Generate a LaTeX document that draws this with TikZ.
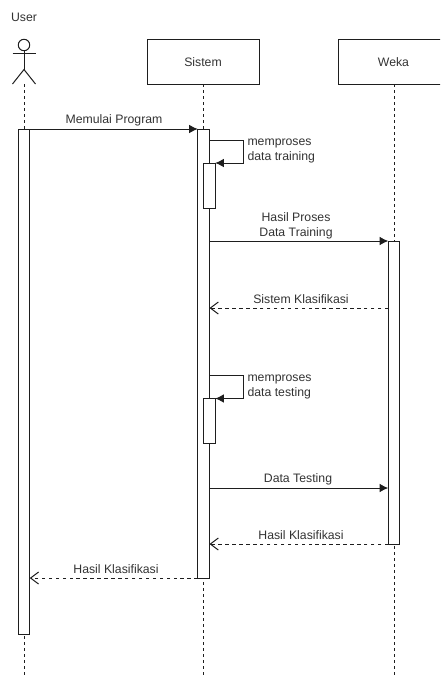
\documentclass[tikz,border=0pt]{standalone}
\usepackage{fontspec}
\setmainfont{Liberation Sans}
\definecolor{mytext}{RGB}{51,51,51}
\definecolor{myline}{RGB}{30,30,30}
\usetikzlibrary{arrows.meta}

\begin{document}
\begin{tikzpicture}[x=0.75pt, y=-0.75pt, line width=0.75pt, color=myline,
	act/.style={draw, fill=white, minimum width=8.6pt, inner sep=0pt, outer sep=0pt, anchor=north},
	head/.style={draw, minimum width=84pt, minimum height=33.75pt, inner sep=0pt, outer sep=0pt},
	txt/.style={font=\fontsize{9.2}{11.25}\selectfont, text=mytext, inner sep=0pt, align=center},
	lifeline/.style={dash pattern=on 2.25pt off 2.25pt},
	call/.style={-{Latex[length=6.5pt, width=6.5pt]}},
	back/.style={dash pattern=on 2.6pt off 2.6pt, -{Straight Barb[length=6pt, width=9pt]}}]
	\useasboundingbox (0,0) rectangle (440,675);
	\clip (0,0) rectangle (440,675);
	% actor
	\node[txt] (userLabel) at (24,17.5) {User};
	\node[draw, circle, minimum size=8.6pt, inner sep=0pt, outer sep=0pt] (userHead) at (24,45) {};
	\coordinate (userHip) at (24,69.5);
	\coordinate (userFoot) at (24,84);
	\draw (userHead) -- (userHip);
	\draw (12.5,53.5) -- (35.5,53.5);
	\draw (12.5,84) -- (userHip) -- (35.5,84);
	% heads
	\node[head] (sistem) at (203.5,61.5) {};
	\node[txt] (sistemLabel) at (203,62) {Sistem};
	\node[head] (weka) at (394,61.5) {};
	\node[txt] (wekaLabel) at (393.5,62) {Weka};
	% lifelines
	\coordinate (userEnd) at (24,675);
	\coordinate (sistemEnd) at (203.5,675);
	\coordinate (wekaEnd) at (394,675);
	\draw[lifeline] (userFoot) -- (userEnd);
	\draw[lifeline] (sistem.south) -- (sistemEnd);
	\draw[lifeline] (weka.south) -- (wekaEnd);
	% activations
	\node[act, minimum height=378.75pt] (actUser) at (24,129) {};
	\node[act, minimum height=336.75pt] (actSistem) at (203.5,129) {};
	\node[act, minimum height=33.75pt] (actTrain) at (209.5,163) {};
	\node[act, minimum height=33.75pt] (actTest) at (209.5,398.5) {};
	\node[act, minimum height=227.25pt] (actWeka) at (394,241) {};
	% messages
	\coordinate (trainOut) at (209.5,140);
	\coordinate (trainA) at (243,140);
	\coordinate (trainB) at (243,163);
	\coordinate (testOut) at (209.5,375.5);
	\coordinate (testA) at (243,375.5);
	\coordinate (testB) at (243,398.5);
	\coordinate (hasilS) at (209.5,241);
	\coordinate (klasS) at (209.5,308);
	\coordinate (klasW) at (388.25,308);
	\coordinate (dataS) at (209.5,488);
	\coordinate (dataW) at (388.25,488);
	\coordinate (akhirS) at (209.5,544);
	\coordinate (userIn) at (29.75,578);
	\draw[call] (actUser.north east) -- (actSistem.north west);
	\draw[call] (trainOut) -- (trainA) -- (trainB) -- (actTrain.north east);
	\draw[call] (hasilS) -- (actWeka.north west);
	\draw[back] (klasW) -- (klasS);
	\draw[call] (testOut) -- (testA) -- (testB) -- (actTest.north east);
	\draw[call] (dataS) -- (dataW);
	\draw[back] (actWeka.south west) -- (akhirS);
	\draw[back] (actSistem.south west) -- (userIn);
	% labels
	\node[txt] (lblMulai) at (114,120) {Memulai Program};
	\node[txt, anchor=west, align=left] (lblTrain) at (247,151) {memproses\\data training};
	\node[txt] (lblHasil) at (296,225.5) {Hasil Proses\\Data Training};
	\node[txt] (lblSistem) at (301,299) {Sistem Klasifikasi};
	\node[txt, anchor=west, align=left] (lblTest) at (247,387) {memproses\\data testing};
	\node[txt] (lblData) at (298,479) {Data Testing};
	\node[txt] (lblAkhir) at (301,535) {Hasil Klasifikasi};
	\node[txt] (lblUser) at (116,569) {Hasil Klasifikasi};
\end{tikzpicture}
\end{document}
